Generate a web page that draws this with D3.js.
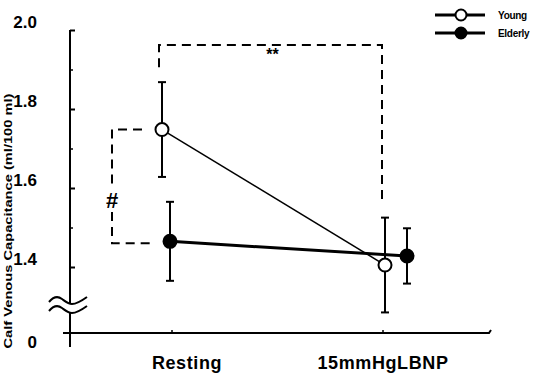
<!DOCTYPE html>
<html>
<head>
<meta charset="utf-8">
<script src="https://cdn.jsdelivr.net/npm/d3@7"></script>
<style>
  body { margin: 0; background: #fff; }
  text { font-family: Arial, "Liberation Sans", sans-serif; font-weight: bold; fill: #000; }
</style>
</head>
<body>
<div id="chart"></div>
<script>
// data
var categories = ["Resting", "15mmHgLBNP"];
var youngMean = [1.748, 1.405];
var youngSE = [0.12, 0.12];
var elderlyMean = [1.465, 1.428];
var elderlySE = [0.10, 0.07];
var seriesNames = ["Young", "Elderly"];
var yTicks = [1.4, 1.6, 1.8, 2.0];
var yMinor = [1.5, 1.7, 1.9];
var yTickLabels = ["1.4", "1.6", "1.8", "2.0"];
var sigTop = 1.962;

var width = 540, height = 379;

var svg = d3.select('#chart')
  .append('svg')
    .attr('width', width)
    .attr('height', height);

var x = d3.scalePoint().domain(categories).range([166, 396]);
var y = d3.scaleLinear().domain([1.4, 2.0]).range([267, 30]);
var y0 = 333; // position of the "0" below the break

// points sit slightly apart at each category
var spread = [4, 11];
var labelShift = [21, -13];
var tickShift = [6, -13];

function youngX(i) { return x(categories[i]) - spread[i]; }
function elderX(i) { return x(categories[i]) + spread[i]; }

//axes
svg.append('path')
  .attr('d', 'M63,' + y0 + 'H489l2,-3')
  .attr('fill', 'none').attr('stroke', '#000').attr('stroke-width', 2);

svg.append('path')
  .attr('d', 'M70,' + y(2.0) + 'V303M70,313V347')
  .attr('fill', 'none').attr('stroke', '#000').attr('stroke-width', 2);

// axis break
[0, 9].forEach(function(off) {
  svg.append('path')
    .attr('d', 'M49,' + (302 + off) + 'c5,-6 9,-6 13,-3s6,5 10,5s8,-2 15,-7')
    .attr('fill', 'none').attr('stroke', '#000').attr('stroke-width', 2);
});

var yAxis = svg.append('g')
  .attr('transform', 'translate(70,0)')
  .call(d3.axisRight(y).tickValues(yTicks).tickSize(5).tickFormat(''));
yAxis.select('.domain').remove();
yAxis.selectAll('line').attr('stroke-width', 2);

var yMinorAxis = svg.append('g')
  .attr('transform', 'translate(70,0)')
  .call(d3.axisRight(y).tickValues(yMinor).tickSize(3).tickFormat(''));
yMinorAxis.select('.domain').remove();
yMinorAxis.selectAll('line').attr('stroke-width', 1.5);

svg.selectAll('.ylab')
  .data(yTicks).enter()
  .append('text')
    .attr('class', 'ylab')
    .attr('x', 37)
    .attr('y', function(d) { return y(d) - 8; })
    .attr('dy', '0.35em')
    .attr('font-size', 17)
    .attr('text-anchor', 'end')
    .text(function(d, i) { return yTickLabels[i]; });

svg.append('text')
  .attr('x', 37)
  .attr('y', y0 + 9)
  .attr('dy', '0.35em')
  .attr('font-size', 17)
  .attr('text-anchor', 'end')
  .text('0');

svg.append('text')
  .attr('transform', 'translate(12,221) rotate(-90)')
  .attr('font-size', 11)
  .attr('text-anchor', 'middle')
  .attr('textLength', 255)
  .attr('lengthAdjust', 'spacingAndGlyphs')
  .text('Calf Venous Capacitance (ml/100 ml)');

// x ticks and labels
svg.selectAll('.xtick')
  .data(categories).enter()
  .append('line')
    .attr('class', 'xtick')
    .attr('x1', function(d, i) { return x(d) + tickShift[i]; })
    .attr('x2', function(d, i) { return x(d) + tickShift[i]; })
    .attr('y1', y0).attr('y2', y0 - 3)
    .attr('stroke', '#000').attr('stroke-width', 1.5);

svg.selectAll('.xlab')
  .data(categories).enter()
  .append('text')
    .attr('class', 'xlab')
    .attr('x', function(d, i) { return x(d) + labelShift[i]; })
    .attr('y', 369)
    .attr('font-size', 18)
    .attr('letter-spacing', 0.6)
    .attr('text-anchor', 'middle')
    .text(function(d) { return d; });

//significance brackets
var dash = '9,6';
var leftB = youngX(0) - 3, rightB = youngX(1) - 3;
svg.append('path')
  .attr('d', 'M' + leftB + ',' + (y(youngMean[0] + youngSE[0]) - 15) + 'V' + y(sigTop) +
             'H' + rightB + 'V' + (y(youngMean[1] + youngSE[1]) - 14))
  .attr('fill', 'none').attr('stroke', '#000').attr('stroke-width', 2)
  .attr('stroke-dasharray', dash);

svg.append('text')
  .attr('x', (leftB + rightB) / 2 + 2)
  .attr('y', y(sigTop) + 15)
  .attr('font-size', 16)
  .attr('text-anchor', 'middle')
  .text('**');

var hashX = x(categories[0]) - 54;
var hashTop = y(youngMean[0]), hashBot = y(elderlyMean[0]) + 2;
svg.append('path')
  .attr('d', 'M' + (youngX(0) - 20) + ',' + hashTop + 'H' + hashX + 'V185')
  .attr('fill', 'none').attr('stroke', '#000').attr('stroke-width', 2)
  .attr('stroke-dasharray', dash);
svg.append('path')
  .attr('d', 'M' + hashX + ',212V' + hashBot + 'H' + (elderX(0) - 18))
  .attr('fill', 'none').attr('stroke', '#000').attr('stroke-width', 2)
  .attr('stroke-dasharray', dash);

svg.append('text')
  .attr('x', hashX)
  .attr('y', 208)
  .attr('font-size', 22)
  .attr('text-anchor', 'middle')
  .text('#');

//series
var series = [
  {name: seriesNames[0], mean: youngMean, se: youngSE, xf: youngX, fill: '#fff', lw: 1.5},
  {name: seriesNames[1], mean: elderlyMean, se: elderlySE, xf: elderX, fill: '#000', lw: 3}
];

var line = d3.line()
  .x(function(d) { return d.x; })
  .y(function(d) { return y(d.v); });

series.forEach(function(s) {
  var pts = s.mean.map(function(v, i) { return {x: s.xf(i), v: v, se: s.se[i]}; });

  svg.append('path')
    .datum(pts)
    .attr('d', line)
    .attr('fill', 'none')
    .attr('stroke', '#000')
    .attr('stroke-width', s.lw);

  var eb = svg.append('g').selectAll('g')
    .data(pts).enter().append('g');

  eb.append('line')
    .attr('x1', function(d) { return d.x; })
    .attr('x2', function(d) { return d.x; })
    .attr('y1', function(d) { return y(d.v - d.se); })
    .attr('y2', function(d) { return y(d.v + d.se); })
    .attr('stroke', '#000').attr('stroke-width', 2);

  eb.selectAll('.cap')
    .data(function(d) { return [d.v - d.se, d.v + d.se].map(function(c) { return {x: d.x, c: c}; }); })
    .enter().append('line')
      .attr('x1', function(d) { return d.x - 4; })
      .attr('x2', function(d) { return d.x + 4; })
      .attr('y1', function(d) { return y(d.c); })
      .attr('y2', function(d) { return y(d.c); })
      .attr('stroke', '#000').attr('stroke-width', 2);

  svg.append('g').selectAll('circle')
    .data(pts).enter()
    .append('circle')
      .attr('cx', function(d) { return d.x; })
      .attr('cy', function(d) { return y(d.v); })
      .attr('r', 6.5)
      .attr('fill', s.fill)
      .attr('stroke', '#000')
      .attr('stroke-width', 2);
});

//legend
var legend = svg.append('g').attr('id', 'g_legend');
var legendY = [15, 33];
series.forEach(function(s, i) {
  legend.append('line')
    .attr('x1', 435).attr('x2', 485)
    .attr('y1', legendY[i]).attr('y2', legendY[i])
    .attr('stroke', '#000').attr('stroke-width', 3);
  legend.append('circle')
    .attr('cx', 461).attr('cy', legendY[i]).attr('r', 5.5)
    .attr('fill', s.fill).attr('stroke', '#000').attr('stroke-width', 2);
  legend.append('text')
    .attr('x', 498).attr('y', legendY[i])
    .attr('dy', '0.35em')
    .attr('font-size', 10)
    .attr('letter-spacing', -0.3)
    .text(s.name);
});
</script>
</body>
</html>
